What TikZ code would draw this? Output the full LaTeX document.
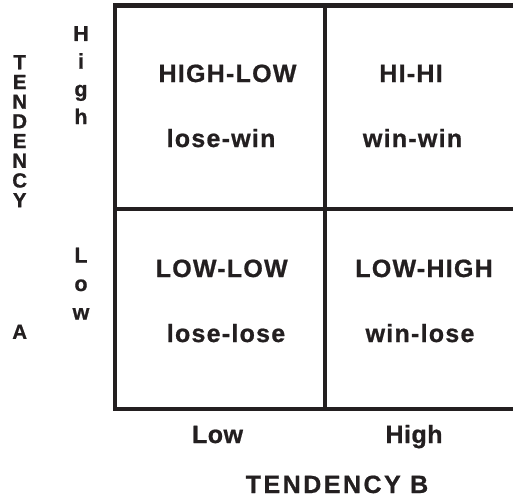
\documentclass[tikz,border=0pt]{standalone}
\usepackage{fontspec}
\setmainfont{Liberation Sans}[BoldFeatures={FakeBold=0.8}]
\definecolor{ink}{HTML}{231F20}
\begin{document}
\begin{tikzpicture}[x=1pt,y=-1pt,
  grid/.style={draw=ink,line width=4.5pt,line join=miter},
  lbl/.style={font=\fontsize{25}{25}\selectfont\bfseries\addfontfeatures{LetterSpace=5},text=ink,inner sep=0pt,anchor=base},
  vlbl/.style={text=ink,inner sep=0pt,anchor=north,align=center}]
\useasboundingbox (0,0) rectangle (513,499);
% grid
\draw[grid] (513,5.5) -- (115,5.5) -- (115,409) -- (513,409);
\draw[grid] (325,5.5) -- (325,409);
\draw[grid] (115,209) -- (513,209);
% quadrant labels
\node[lbl] (hl) at (227.5,82) {HIGH-LOW};
\node[lbl] (lw) at (221,147) {lose-win};
\node[lbl] (hh) at (411,82) {HI-HI};
\node[lbl] (ww) at (412.5,147) {win-win};
\node[lbl] (ll) at (221.7,277) {LOW-LOW};
\node[lbl] (lsl) at (226,342) {lose-lose};
\node[lbl] (lh) at (424,277) {LOW-HIGH};
\node[lbl] (wl) at (420,342) {win-lose};
% axis B
\node[lbl,font=\fontsize{25}{25}\selectfont\bfseries\addfontfeatures{LetterSpace=2}] (blow) at (217.5,443) {Low};
\node[lbl,font=\fontsize{25}{25}\selectfont\bfseries\addfontfeatures{LetterSpace=2}] (bhigh) at (414,443) {High};
\node[lbl,font=\fontsize{25}{25}\selectfont\bfseries\addfontfeatures{LetterSpace=10}] (tb) at (337,493) {TENDENCY B};
% axis A
\node[vlbl,font=\fontsize{20.5}{19.7}\selectfont\bfseries] (ta) at (19.7,55) {T\\E\\N\\D\\E\\N\\C\\Y\\[112pt]A};
\node[vlbl,font=\fontsize{21.5}{27.7}\selectfont\bfseries] (ahigh) at (81,26) {H\\i\\g\\h};
\node[vlbl,font=\fontsize{21.5}{28.5}\selectfont\bfseries] (alow) at (81,247.5) {L\\o\\w};
\end{tikzpicture}
\end{document}
